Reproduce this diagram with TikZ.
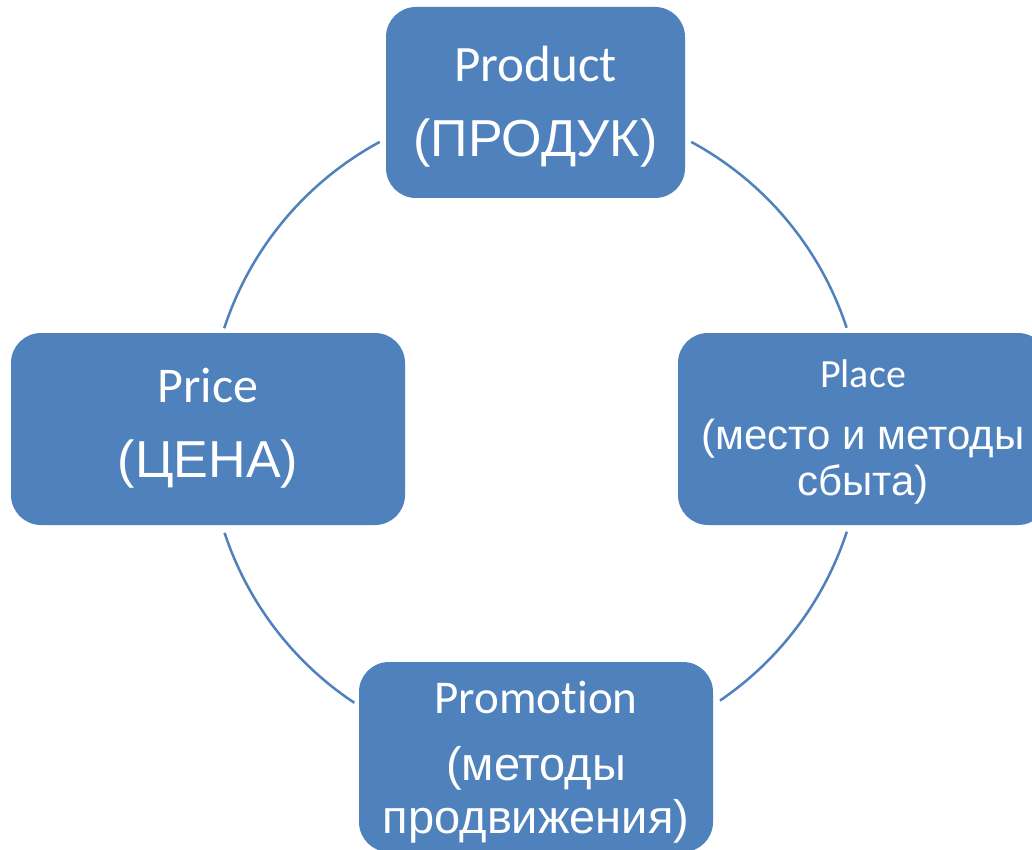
\documentclass[tikz,border=0pt]{standalone}
\usepackage{fontspec}
\newfontfamily\calfont{Carlito}[Ligatures=CommonOff]
\newfontfamily\arifont{Liberation Sans}
\definecolor{acc}{HTML}{4F81BD}
\begin{document}
\begin{tikzpicture}[x=1pt,y=1pt,
  box/.style={fill=acc, rounded corners=30pt, text=white, align=center, inner sep=0pt, text depth=0pt},
  ring/.style={draw=acc, line width=2.5pt}]
\useasboundingbox (0,0) rectangle (1032,-850);
\clip (0,0) rectangle (1032,-850);
\fill[white] (0,0) rectangle (1032,-850);
\coordinate (c) at (535.5,-430);
\node[box, minimum width=299pt, minimum height=191pt, text height=109pt,
  font=\fontsize{52}{75}\selectfont] (prod) at (535.5,-102.5)
  {{\calfont\fontsize{51}{75}\selectfont Product}\\{\arifont(ПРОДУК)}};
\node[box, minimum width=394pt, minimum height=192pt, text height=96pt,
  font=\fontsize{52}{75}\selectfont] (price) at (208,-429)
  {{\calfont\fontsize{50}{75}\selectfont Price}\\{\arifont(ЦЕНА)}};
\node[box, minimum width=370pt, minimum height=192pt, text height=132pt,
  font=\fontsize{42}{46}\selectfont] (place) at (863,-429)
  {{\calfont\fontsize{40}{46}\selectfont Place}\\[16pt]{\arifont(место и методы}\\{\arifont сбыта)}};
\node[box, minimum width=354pt, minimum height=190pt, text height=152pt,
  font=\fontsize{47}{53}\selectfont] (promo) at (536,-757)
  {{\calfont\fontsize{47}{53}\selectfont Promotion}\\[14pt]{\arifont(методы}\\{\arifont продвижения)}};
\draw[ring] ([shift={(118.4:327.5)}]c) arc[start angle=118.4, end angle=161.9, radius=327.5];
\draw[ring] ([shift={(61.6:327.5)}]c) arc[start angle=61.6, end angle=18.2, radius=327.5];
\draw[ring] ([shift={(-18.1:327.5)}]c) arc[start angle=-18.1, end angle=-55.7, radius=327.5];
\draw[ring] ([shift={(198.3:327.5)}]c) arc[start angle=198.3, end angle=236.4, radius=327.5];
\end{tikzpicture}
\end{document}
